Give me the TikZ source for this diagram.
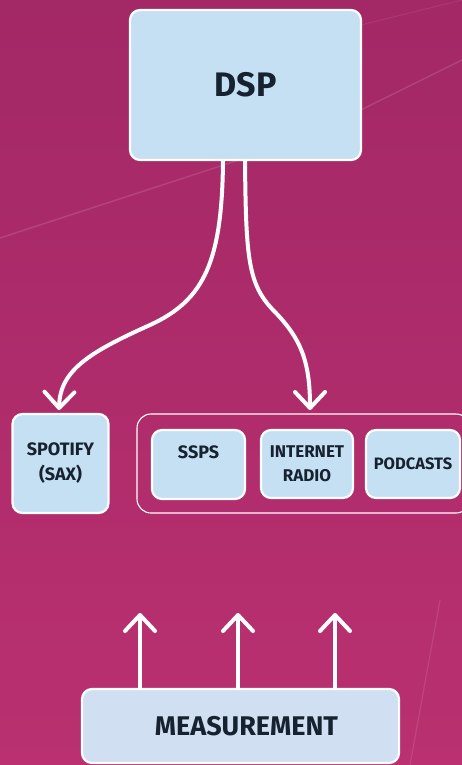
\documentclass[tikz,border=0pt]{standalone}
\usepackage{fontspec}
\setmainfont{Fira Sans}
\usetikzlibrary{arrows.meta,calc}
\definecolor{bgtop}{RGB}{163,40,102}
\definecolor{bgbot}{RGB}{186,48,112}
\definecolor{boxfill}{RGB}{197,223,243}
\definecolor{measfill}{RGB}{208,224,242}
\definecolor{ink}{RGB}{22,34,48}
\tikzset{
  box/.style={draw=white, line width=2.2pt, fill=boxfill, rounded corners=10pt,
    text=ink, align=center, inner sep=0pt, font=\bfseries\fontsize{18}{25}\selectfont},
  flow/.style={draw=white, line width=4pt, line cap=round,
    -{Straight Barb[length=16pt,width=30pt,line width=4pt,round]}},
}
\begin{document}
\begin{tikzpicture}[x=1pt,y=-1pt]
\useasboundingbox (0,0) rectangle (462,765);
\begin{scope}
\clip (0,0) rectangle (462,765);
\shade[top color=bgtop, bottom color=bgbot] (0,0) rectangle (462,765);
\draw[white, opacity=0.12, line width=1.5pt] (0,238) -- (300,140) -- (462,60);
\draw[white, opacity=0.08, line width=1pt] (300,40) -- (462,0);
\draw[white, opacity=0.10, line width=1.2pt] (440,600) -- (410,765);
% group container
\node[draw=white, line width=1.1pt, rounded corners=14pt, minimum width=333pt,
  minimum height=99pt, inner sep=0pt] (grp) at (303.5,463.5) {};
\end{scope}
% nodes
\node[box, minimum width=231pt, minimum height=150pt, font=\bfseries\fontsize{34}{38}\selectfont] (dsp) at (245.5,85) {DSP};
\node[box, minimum width=96pt, minimum height=99pt] (spot) at (60.5,463.5) {SPOTIFY\\(SAX)};
\node[box, minimum width=93pt, minimum height=69pt] (ssps) at (198.5,464.5) {SSPS\\\phantom{X}};
\node[box, minimum width=92pt, minimum height=68pt, font=\bfseries\fontsize{17}{24}\selectfont] (ir) at (307,464) {INTERNET\\RADIO};
\node[box, minimum width=94pt, minimum height=68pt, font=\bfseries\fontsize{16.5}{20}\selectfont] (pod) at (413,464) {PODCASTS};
\node[box, fill=measfill, minimum width=317pt, minimum height=74pt, font=\bfseries\fontsize{27}{30}\selectfont] (meas) at (240.5,726) {\hspace{12pt}MEASUREMENT};
% arrow end points
\coordinate (lt) at (59,410);
\coordinate (rt) at (310,410);
\coordinate (u1) at (140,613);
\coordinate (u2) at (238,613);
\coordinate (u3) at (335,613);
% curved connectors
\draw[flow] ([xshift=-22.5pt]dsp.south) .. controls (222,260) and (205,300) .. (150,325)
  .. controls (90,352) and (60,370) .. (lt);
\draw[flow] ([xshift=-0.5pt]dsp.south) .. controls (246,260) and (248,285) .. (275,312)
  .. controls (300,338) and (310,360) .. (rt);
% up arrows
\draw[flow] (meas.north -| u1) -- (u1);
\draw[flow] (meas.north -| u2) -- (u2);
\draw[flow] (meas.north -| u3) -- (u3);
\end{tikzpicture}
\end{document}
